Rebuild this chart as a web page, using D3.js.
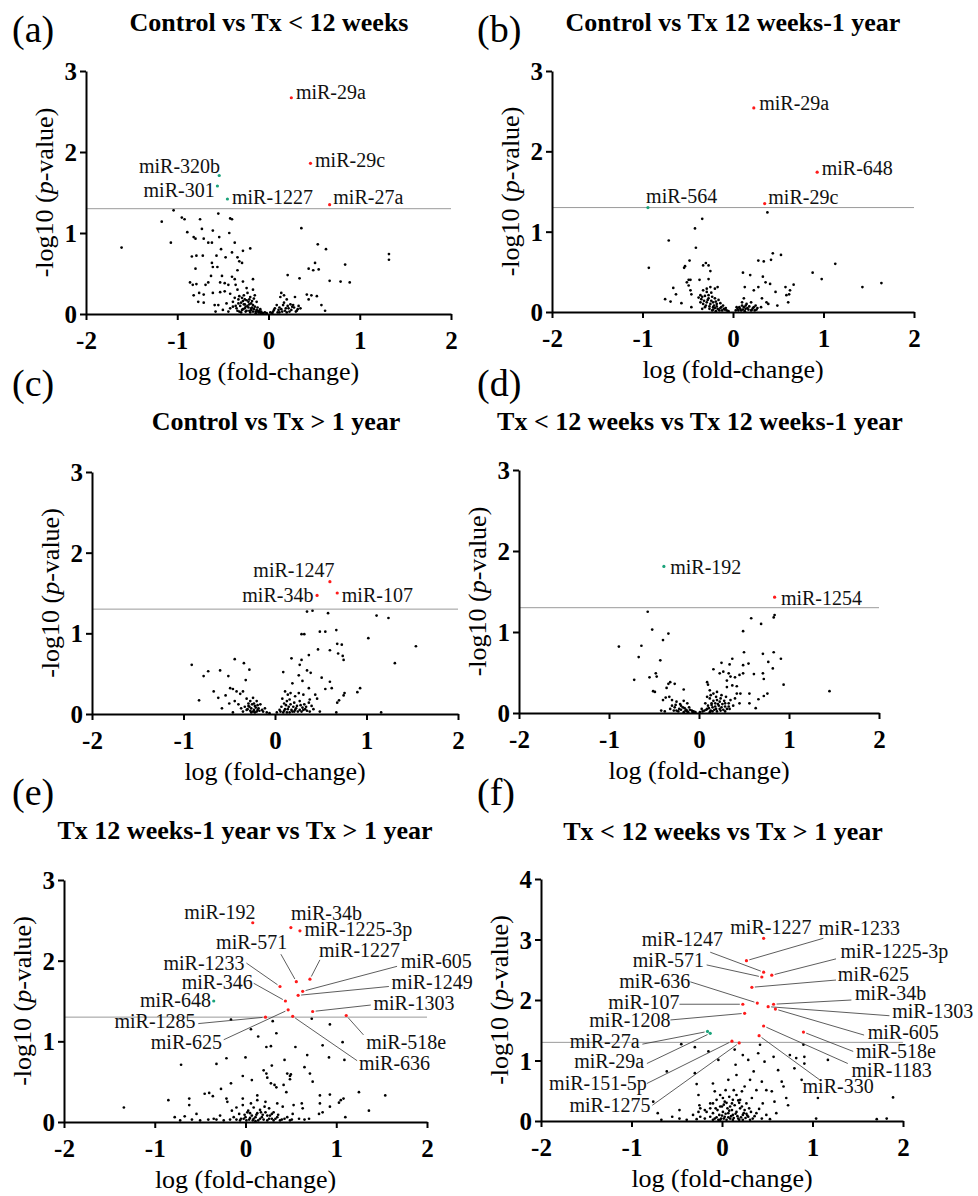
<!DOCTYPE html>
<html>
<head>
<meta charset="utf-8">
<script src="https://cdn.jsdelivr.net/npm/d3@7"></script>
<style>
  body { margin: 0; background: #fff; }
  text { font-family: "Liberation Serif", "Times New Roman", serif; }
</style>
</head>
<body>
<div id="chart"></div>
<script>
// Volcano plots: -log10(p) vs log(fold-change)

// Panel titles and letters
var panelLetters = ["(a)", "(b)", "(c)", "(d)", "(e)", "(f)"];
var panelTitles = [
  "Control vs Tx < 12 weeks",
  "Control vs Tx 12 weeks-1 year",
  "Control vs Tx > 1 year",
  "Tx < 12 weeks vs Tx 12 weeks-1 year",
  "Tx 12 weeks-1 year vs Tx > 1 year",
  "Tx < 12 weeks vs Tx > 1 year"
];
var xTicks = [-2, -1, 0, 1, 2];
var yTicks3 = [0, 1, 2, 3];
var yTicks4 = [0, 1, 2, 3, 4];
var threshold = 1.3;   // -log10(0.05)

// Non-significant miRNAs [logFC, -log10 p]
var bgA = [[-1.61,0.82],[-1.17,1.14],[-1.07,0.88],[-1.04,1.28],[-0.95,1.19],[-0.92,1.17],[-0.89,1.01],[-0.82,0.95],[-0.75,1.17],[-0.73,1.05],[-0.80,0.93],[-0.71,0.93],[-0.66,0.88],[-0.62,0.88],[-0.61,1.03],[-0.55,1.24],[-0.54,0.95],[-0.42,1.18],[-0.43,1.0],[-0.40,1.17],[-0.37,0.88],[-0.52,0.80],[-0.57,0.72],[-0.47,0.70],[-0.40,0.76],[-0.34,0.70],[-0.28,0.78],[-0.20,0.81],[-0.84,0.71],[-0.79,0.72],[-0.72,0.72],[-0.80,0.56],[-0.62,0.63],[-0.61,0.58],[-0.56,0.58],[-0.32,0.65],[-0.29,0.63],[-0.34,0.54],[-0.63,0.47],[-0.51,0.47],[-0.40,0.46],[-0.37,0.43],[-0.28,0.40],[-0.17,0.43],[-0.86,0.39],[-0.83,0.36],[-0.79,0.37],[-0.69,0.36],[-0.66,0.39],[-0.53,0.39],[-0.48,0.38],[-0.44,0.36],[-0.36,0.36],[-0.34,0.30],[-0.24,0.32],[-0.17,0.30],[-0.82,0.23],[-0.76,0.26],[-0.71,0.24],[-0.61,0.26],[-0.53,0.27],[-0.48,0.28],[-0.42,0.25],[-0.37,0.20],[-0.32,0.22],[-0.27,0.23],[-0.23,0.26],[-0.20,0.21],[-0.15,0.23],[-0.77,0.15],[-0.71,0.14],[-0.59,0.11],[-0.55,0.11],[-0.46,0.13],[-0.39,0.15],[-0.33,0.13],[-0.28,0.16],[-0.24,0.17],[-0.19,0.13],[-0.13,0.15],[-0.58,0.03],[-0.50,0.05],[-0.42,0.07],[-0.39,0.09],[-0.35,0.07],[-0.31,0.10],[-0.29,0.05],[-0.26,0.07],[-0.23,0.10],[-0.21,0.04],[-0.19,0.07],[-0.17,0.03],[-0.15,0.09],[-0.13,0.05],[-0.11,0.02],[-0.09,0.06],[-0.08,0.03],[-0.06,0.01],[-0.04,0.02],[-0.17,0.11],[-0.22,0.15],[-0.26,0.12],[-0.30,0.02],[-0.25,0.03],[-0.20,0.02],[-0.14,0.01],[-0.10,0.04],[-0.27,0.12],[-0.21,0.18],[-0.18,0.08],[-0.12,0.08],[-0.34,0.04],[-0.44,0.03],
  [-0.32,0.03],[-0.28,0.06],[-0.24,0.04],[-0.22,0.08],[-0.19,0.05],[-0.16,0.06],[-0.14,0.03],[-0.12,0.04],[-0.10,0.02],[-0.08,0.01],[-0.25,0.09],[-0.30,0.14],[-0.26,0.18],[-0.18,0.16],[-0.16,0.19],[-0.21,0.12],[-0.36,0.10],[-0.33,0.18],[-0.29,0.20],
  [0.36,1.06],[0.54,0.86],[0.63,0.80],[0.21,0.48],[0.34,0.44],[0.44,0.56],[0.51,0.63],[0.49,0.54],[0.55,0.55],[0.67,0.41],[0.79,0.40],[0.89,0.39],[0.84,0.61],[1.32,0.74],[1.32,0.67],[0.42,0.24],[0.47,0.23],[0.53,0.22],[0.44,0.18],[0.58,0.11],[0.62,0.04],[0.14,0.26],[0.17,0.23],[0.13,0.21],[0.20,0.18],[0.29,0.21],[0.09,0.11],[0.16,0.11],[0.24,0.12],[0.27,0.11],[0.33,0.10],[0.35,0.07],[0.07,0.07],[0.11,0.05],[0.14,0.06],[0.18,0.04],[0.22,0.07],[0.25,0.05],[0.30,0.03],[0.05,0.03],[0.02,0.02],[-0.02,0.01],[0.12,0.02],[0.20,0.02],[0.28,0.08],[0.31,0.04],
  [0.10,0.02],[0.15,0.03],[0.23,0.03],[0.26,0.09],[0.19,0.07],[0.06,0.05],[0.21,0.10],[0.17,0.14],[0.12,0.08],[0.32,0.06],[0.04,0.01]];

var bgB = [[-0.93,0.55],[-0.34,1.16],[-0.42,1.04],[-0.41,0.80],[-0.71,0.89],[-0.48,0.64],[-0.53,0.57],[-0.54,0.55],[-0.33,0.58],[-0.30,0.61],[-0.27,0.58],[-0.25,0.51],[-0.49,0.40],[-0.51,0.37],[-0.47,0.40],[-0.37,0.40],[-0.27,0.41],[-0.66,0.30],[-0.63,0.22],[-0.49,0.33],[-0.47,0.27],[-0.46,0.22],[-0.75,0.16],[-0.69,0.13],[-0.57,0.11],[-0.46,0.06],[-0.36,0.21],[-0.33,0.27],[-0.29,0.29],[-0.25,0.31],[-0.20,0.29],[-0.17,0.31],[-0.38,0.18],[-0.34,0.19],[-0.31,0.20],[-0.27,0.21],[-0.23,0.19],[-0.20,0.17],[-0.16,0.15],[-0.36,0.12],[-0.33,0.10],[-0.29,0.12],[-0.25,0.10],[-0.22,0.12],[-0.18,0.10],[-0.14,0.11],[-0.11,0.08],[-0.31,0.06],[-0.26,0.04],[-0.22,0.06],[-0.17,0.04],[-0.13,0.06],[-0.10,0.04],[-0.07,0.02],[-0.23,0.02],[-0.19,0.01],[-0.15,0.02],[-0.05,0.01],[-0.34,0.04],[-0.28,0.15],[-0.24,0.14],[-0.21,0.08],[-0.12,0.02],[-0.30,0.08],
  [-0.26,0.07],[-0.22,0.03],[-0.20,0.05],[-0.18,0.07],[-0.16,0.03],[-0.14,0.05],[-0.09,0.03],[-0.08,0.05],[-0.32,0.14],[-0.35,0.16],[-0.27,0.17],[-0.19,0.13],[-0.24,0.24],[-0.29,0.25],
  [0.38,1.24],[0.11,0.49],[0.19,0.46],[0.28,0.64],[0.34,0.63],[0.44,0.73],[0.42,0.65],[0.53,0.71],[0.33,0.44],[0.36,0.37],[0.28,0.31],[0.23,0.27],[0.13,0.31],[0.41,0.35],[0.47,0.25],[0.58,0.31],[0.67,0.34],[0.63,0.27],[0.59,0.21],[0.62,0.22],[0.49,0.08],[0.61,0.12],[0.32,0.17],[0.37,0.12],[0.39,0.10],[0.88,0.49],[0.98,0.41],[1.13,0.60],[1.43,0.31],[1.64,0.36],[0.12,0.17],[0.10,0.12],[0.15,0.10],[0.20,0.12],[0.25,0.08],[0.04,0.06],[0.08,0.04],[0.12,0.06],[0.17,0.03],[0.22,0.05],[0.26,0.03],[0.31,0.06],[0.06,0.02],[0.13,0.01],[0.20,0.02],[0.03,0.02],[0.09,0.02],[0.16,0.05],[0.24,0.02],
  [0.05,0.04],[0.07,0.06],[0.11,0.03],[0.14,0.04],[0.18,0.07],[0.21,0.03],[0.23,0.06],[0.27,0.05],[0.10,0.08],[0.14,0.08]];

var bgC = [[-0.91,0.61],[-0.83,0.17],[-0.78,0.47],[-0.73,0.53],[-0.60,0.54],[-0.67,0.28],[-0.62,0.20],[-0.58,0.07],[-0.51,0.47],[-0.44,0.68],[-0.34,0.63],[-0.28,0.55],[-0.32,0.42],[-0.49,0.32],[-0.46,0.31],[-0.42,0.28],[-0.38,0.25],[-0.35,0.28],[-0.54,0.23],[-0.50,0.13],[-0.44,0.16],[-0.40,0.12],[-0.37,0.07],[-0.31,0.19],[-0.27,0.16],[-0.24,0.20],[-0.20,0.16],[-0.29,0.10],[-0.26,0.07],[-0.22,0.10],[-0.18,0.07],[-0.16,0.12],[-0.31,0.05],[-0.24,0.03],[-0.19,0.05],[-0.14,0.05],[-0.09,0.02],[-0.06,0.01],[-0.11,0.07],[-0.35,0.03],[-0.46,0.02],[-0.27,0.04],[-0.22,0.02],[-0.25,0.12],[-0.21,0.08],[-0.28,0.09],
  [-0.30,0.06],[-0.26,0.02],[-0.23,0.05],[-0.20,0.03],[-0.17,0.04],[-0.13,0.03],[-0.33,0.09],[-0.29,0.13],[-0.23,0.13],[-0.19,0.11],
  [0.35,1.27],[0.41,1.28],[0.58,1.25],[1.11,1.22],[1.24,1.19],[0.67,1.04],[0.49,1.02],[0.55,1.02],[0.29,0.99],[0.32,0.99],[1.02,0.94],[0.68,0.87],[0.73,0.86],[0.47,0.80],[0.60,0.79],[0.69,0.75],[0.74,0.72],[0.75,0.67],[1.54,0.84],[1.31,0.63],[0.37,0.73],[0.29,0.67],[0.27,0.61],[0.18,0.69],[0.35,0.54],[0.39,0.51],[0.09,0.52],[0.26,0.48],[0.19,0.38],[0.30,0.41],[0.51,0.45],[0.60,0.40],[0.55,0.31],[0.62,0.32],[0.76,0.26],[0.75,0.23],[0.93,0.32],[0.90,0.27],[0.68,0.14],[0.70,0.17],[0.67,0.02],[1.16,0.02],[0.11,0.28],[0.14,0.24],[0.17,0.26],[0.22,0.22],[0.26,0.26],[0.31,0.24],[0.37,0.32],[0.44,0.24],[0.46,0.19],[0.38,0.18],[0.08,0.19],[0.13,0.16],[0.16,0.18],[0.21,0.14],[0.27,0.16],[0.32,0.12],[0.37,0.14],[0.40,0.10],[0.07,0.09],[0.11,0.06],[0.15,0.09],[0.18,0.05],[0.23,0.07],[0.27,0.05],[0.33,0.06],[0.38,0.03],[0.42,0.06],[0.49,0.03],[0.05,0.05],[0.02,0.02],[0.09,0.02],[0.16,0.02],[0.12,0.11],[0.24,0.10],[0.30,0.08],[0.21,0.03],
  [0.06,0.03],[0.10,0.04],[0.13,0.02],[0.14,0.06],[0.19,0.03],[0.22,0.05],[0.25,0.03],[0.29,0.03],[0.31,0.05],[0.35,0.04],[0.17,0.12],[0.20,0.09],[0.28,0.11],[0.34,0.09],[0.10,0.13]];

var bgD = [[-0.89,0.82],[-0.72,0.41],[-0.67,0.69],[-0.64,0.83],[-0.57,1.25],[-0.52,1.03],[-0.40,0.90],[-0.34,0.98],[-0.43,0.65],[-0.48,0.49],[-0.47,0.45],[-0.55,0.44],[-0.51,0.27],[-0.49,0.26],[-0.34,0.36],[-0.32,0.38],[-0.27,0.36],[-0.36,0.31],[-0.17,0.29],[-0.40,0.16],[-0.37,0.19],[-0.33,0.20],[-0.30,0.16],[-0.25,0.14],[-0.21,0.11],[-0.17,0.15],[-0.13,0.12],[-0.42,0.03],[-0.38,0.02],[-0.32,0.05],[-0.27,0.07],[-0.22,0.05],[-0.18,0.07],[-0.14,0.04],[-0.11,0.07],[-0.08,0.03],[-0.04,0.01],[-0.23,0.02],[-0.17,0.01],[-0.12,0.01],[-0.28,0.03],[-0.20,0.09],[-0.15,0.03],[-0.06,0.02],
  [-0.25,0.03],[-0.20,0.04],[-0.16,0.06],[-0.13,0.02],[-0.10,0.04],[-0.07,0.01],[-0.30,0.09],[-0.26,0.10],
  [0.84,1.21],[0.83,1.18],[0.58,1.17],[0.69,1.10],[0.49,1.01],[0.83,0.75],[0.91,0.67],[0.71,0.73],[0.50,0.75],[0.55,0.61],[0.49,0.59],[0.37,0.67],[0.25,0.62],[0.34,0.60],[0.16,0.54],[0.23,0.49],[0.27,0.51],[0.33,0.49],[0.35,0.45],[0.40,0.44],[0.45,0.47],[0.49,0.49],[0.61,0.48],[0.71,0.49],[0.72,0.42],[0.77,0.63],[0.82,0.55],[0.94,0.35],[1.45,0.27],[0.09,0.38],[0.10,0.35],[0.31,0.40],[0.37,0.34],[0.42,0.33],[0.31,0.32],[0.46,0.24],[0.42,0.24],[0.56,0.24],[0.66,0.17],[0.72,0.21],[0.76,0.24],[0.63,0.06],[0.56,0.12],[0.12,0.28],[0.16,0.24],[0.20,0.26],[0.25,0.22],[0.30,0.20],[0.35,0.16],[0.40,0.18],[0.45,0.12],[0.09,0.20],[0.12,0.18],[0.16,0.15],[0.20,0.16],[0.23,0.14],[0.28,0.15],[0.33,0.12],[0.38,0.09],[0.07,0.12],[0.10,0.09],[0.14,0.12],[0.18,0.08],[0.22,0.09],[0.25,0.07],[0.29,0.08],[0.34,0.05],[0.03,0.05],[0.06,0.03],[0.09,0.05],[0.13,0.03],[0.17,0.04],[0.20,0.02],[0.24,0.03],[0.29,0.02],[0.01,0.01],[0.15,0.07],[0.26,0.11],
  [0.04,0.02],[0.08,0.04],[0.11,0.06],[0.12,0.01],[0.15,0.02],[0.19,0.05],[0.21,0.11],[0.23,0.05],[0.27,0.04],[0.31,0.05],[0.33,0.08],[0.14,0.10],[0.18,0.12],[0.24,0.18],[0.19,0.20],[0.13,0.22],[0.29,0.12]];

var bgE = [[-1.34,0.18],[-0.85,0.27],[-0.71,0.71],[-0.78,0.06],[-0.67,0.07],[-0.62,0.29],[-0.62,0.21],[-0.54,0.10],[-0.45,0.35],[-0.40,0.36],[-0.36,0.32],[-0.32,0.72],[-0.27,0.41],[-0.21,0.79],[-0.16,0.48],[-0.21,0.29],[-0.20,0.25],[-0.16,1.27],[0.06,1.15],[0.14,1.06],[0.23,0.93],[0.28,0.94],[0.30,1.25],[0.34,1.10],[0.55,0.93],[0.68,0.83],[0.73,1.28],[0.85,0.95],[0.93,1.21],[1.07,0.99],[0.92,0.80],[1.09,0.77],[0.00,0.80],[-0.03,0.57],[0.07,0.52],[0.13,0.33],[0.20,0.64],[0.23,0.60],[0.24,0.55],[0.28,0.48],[0.29,0.70],[0.32,0.46],[0.34,0.43],[0.42,0.46],[0.43,0.77],[0.46,0.60],[0.49,0.57],[0.49,0.53],[0.50,0.59],[0.45,0.37],[0.65,0.68],[0.71,0.60],[0.74,0.50],[0.82,0.33],[0.93,0.34],[1.05,0.27],[1.08,0.29],[1.25,0.37],[1.54,0.33],[1.36,0.14],[1.10,0.06],[0.82,0.23],[0.81,0.10],[0.85,0.12],[0.93,0.19],[1.03,0.24],[0.62,0.23],[0.63,0.17],[0.53,0.21],[0.52,0.10],[0.41,0.19],[0.35,0.23],[0.22,0.25],[0.13,0.27],[0.06,0.23],[-0.03,0.29],[-0.03,0.21],[-0.10,0.18],[-0.15,0.14],[-0.07,0.10],[0.02,0.12],[0.07,0.08],[0.13,0.11],[0.18,0.06],[0.22,0.12],[0.27,0.08],[0.31,0.12],[0.35,0.06],[0.40,0.03],[0.46,0.06],[0.51,0.03],[0.59,0.04],[0.65,0.03],[0.70,0.04],[-0.13,0.06],[-0.10,0.03],[-0.05,0.04],[0.00,0.06],[0.04,0.03],[0.09,0.04],[0.14,0.02],[0.24,0.02],[0.31,0.02],[0.38,0.02],[-0.17,0.03],[-0.24,0.02],[-0.32,0.03],[-0.41,0.03],[-0.50,0.02],[-0.59,0.03],[-0.72,0.02],[-0.28,0.08],[-0.35,0.04],[0.03,0.14],[0.09,0.18],[0.16,0.15],[0.26,0.17],[0.19,0.09],[0.29,0.04],[0.11,0.01],
  [-0.06,0.02],[-0.02,0.04],[0.01,0.02],[0.05,0.05],[0.08,0.02],[0.11,0.06],[0.16,0.04],[0.20,0.03],[0.26,0.04],[0.29,0.10],[0.33,0.04],[0.36,0.09],[0.43,0.04],[0.49,0.02],[0.17,0.12],[0.24,0.08],[0.12,0.09],[-0.01,0.09],[0.05,0.11],[0.21,0.19]];

var bgF = [[-0.76,0.32],[-0.71,0.13],[-0.67,0.02],[-0.61,0.82],[-0.55,0.07],[-0.47,0.18],[-0.45,1.27],[-0.30,1.22],[-0.30,0.79],[-0.28,0.61],[-0.26,0.43],[-0.25,0.26],[-0.32,0.10],[-0.24,0.07],[-0.19,0.18],[-0.15,1.15],[-0.13,0.29],[-0.10,0.62],[-0.08,0.49],[-0.04,1.01],[-0.02,0.24],[0.01,0.38],[0.04,0.51],[0.07,0.68],[0.11,0.29],[0.13,0.51],[0.14,1.18],[0.15,0.93],[0.16,0.76],[0.20,0.35],[0.22,0.24],[0.23,1.09],[0.25,0.57],[0.27,0.29],[0.29,1.01],[0.31,0.68],[0.33,0.38],[0.35,0.82],[0.38,0.51],[0.40,1.12],[0.42,1.26],[0.44,0.65],[0.45,0.29],[0.47,0.98],[0.49,0.51],[0.55,0.49],[0.57,1.06],[0.58,0.32],[0.60,0.13],[0.62,0.84],[0.66,0.65],[0.68,0.57],[0.71,0.38],[0.73,0.26],[0.75,1.09],[0.80,0.87],[0.82,1.04],[0.88,0.68],[0.90,1.26],[0.91,1.06],[0.91,0.95],[1.17,1.01],[1.06,0.38],[1.04,0.04],[1.71,0.03],[1.82,0.04],[1.89,0.39],
  [-0.19,0.04],[-0.13,0.07],[-0.10,0.13],[-0.08,0.04],[-0.05,0.18],[-0.03,0.10],[-0.01,0.04],[0.01,0.15],[0.03,0.07],[0.06,0.21],[0.07,0.13],[0.09,0.04],[0.11,0.18],[0.12,0.10],[0.14,0.26],[0.16,0.15],[0.18,0.04],[0.20,0.21],[0.23,0.10],[0.25,0.18],[0.29,0.07],[0.32,0.15],[0.34,0.04],[0.38,0.13],[0.44,0.04],[0.49,0.10],[0.53,0.03],[-0.10,0.29],[-0.06,0.35],[-0.02,0.43],[0.03,0.32],[0.08,0.40],[0.12,0.35],[0.16,0.43],[0.22,0.49],[0.09,0.24],[-0.24,0.21],[-0.17,0.15],[-0.13,0.21],[-0.02,0.02],[0.05,0.02],[0.12,0.02],[0.23,0.02],[0.31,0.02],[-0.10,0.02],[-0.28,0.03],[-0.39,0.02],[-0.47,0.04],[-0.26,0.15],[0.00,0.24],[0.05,0.30],[0.19,0.30],[0.27,0.12],[0.36,0.08],[0.41,0.20],
  [-0.06,0.06],[-0.04,0.02],[0.00,0.09],[0.02,0.04],[0.04,0.12],[0.07,0.06],[0.10,0.08],[0.13,0.05],[0.15,0.12],[0.17,0.08],[0.19,0.02],[0.21,0.06],[0.24,0.13],[0.26,0.05],[0.28,0.09],[0.30,0.21],[0.18,0.34],[0.08,0.17],[-0.07,0.21],[0.02,0.27]];

// Significant miRNAs [name, logFC, -log10 p, direction]
var hitsA = [["miR-29a",0.25,2.67,"up"],["miR-29c",0.46,1.86,"up"],["miR-27a",0.67,1.35,"up"],
  ["miR-320b",-0.54,1.71,"down"],["miR-301",-0.56,1.58,"down"],["miR-1227",-0.45,1.42,"down"]];
var hitsB = [["miR-29a",0.23,2.54,"up"],["miR-648",0.93,1.74,"up"],["miR-29c",0.35,1.35,"up"],
  ["miR-564",-0.94,1.30,"down"]];
var hitsC = [["miR-1247",0.60,1.64,"up"],["miR-34b",0.46,1.47,"up"],["miR-107",0.68,1.50,"up"]];
var hitsD = [["miR-192",-0.39,1.81,"down"],["miR-1254",0.84,1.43,"up"]];
var hitsE = [["miR-192",0.08,2.47,"up"],["miR-34b",0.50,2.41,"up"],["miR-1225-3p",0.60,2.37,"up"],
  ["miR-571",0.56,1.74,"up"],["miR-1227",0.71,1.77,"up"],["miR-1233",0.38,1.68,"up"],
  ["miR-346",0.44,1.50,"up"],["miR-605",0.63,1.62,"up"],["miR-1249",0.58,1.57,"up"],
  ["miR-648",-0.35,1.50,"down"],["miR-1303",0.74,1.37,"up"],["miR-1285",0.22,1.30,"up"],
  ["miR-625",0.47,1.39,"up"],["miR-518e",1.11,1.32,"up"],["miR-636",0.52,1.31,"up"]];
var hitsF = [["miR-1227",0.46,3.02,"up"],["miR-1233",0.27,2.65,"up"],["miR-1247",0.46,2.46,"up"],
  ["miR-1225-3p",0.55,2.41,"up"],["miR-571",0.44,2.38,"up"],["miR-625",0.33,2.21,"up"],
  ["miR-636",0.39,1.95,"up"],["miR-34b",0.57,1.93,"up"],["miR-107",0.23,1.93,"up"],
  ["miR-1303",0.51,1.89,"up"],["miR-1208",0.25,1.78,"up"],["miR-605",0.59,1.85,"up"],
  ["miR-518e",0.90,1.47,"up"],["miR-1183",0.46,1.57,"up"],["miR-330",0.41,1.41,"up"],
  ["miR-27a",-0.16,1.48,"down"],["miR-29a",-0.13,1.45,"down"],
  ["miR-151-5p",0.11,1.32,"up"],["miR-1275",0.19,1.29,"up"]];

// Label placement (data units): [labelX, labelY, anchor, leaderX, leaderY]
var labA = {"miR-29a":[0.30,2.65,"start"],"miR-29c":[0.51,1.81,"start"],"miR-27a":[0.71,1.36,"start"],
  "miR-320b":[-0.53,1.745,"end"],"miR-301":[-0.59,1.45,"end"],"miR-1227":[-0.40,1.36,"start"]};
var labB = {"miR-29a":[0.29,2.52,"start"],"miR-648":[0.98,1.71,"start"],"miR-29c":[0.39,1.35,"start"],
  "miR-564":[-0.96,1.36,"start"]};
var labC = {"miR-1247":[0.65,1.70,"end"],"miR-34b":[0.42,1.39,"end"],"miR-107":[0.73,1.39,"start"]};
var labD = {"miR-192":[-0.32,1.72,"start"],"miR-1254":[0.91,1.33,"start"]};
var labE = {"miR-192":[0.11,2.52,"end"],"miR-34b":[0.50,2.51,"start"],"miR-1225-3p":[0.65,2.31,"start"],
  "miR-571":[0.46,2.14,"end",0.39,2.08],"miR-1227":[0.81,2.04,"start",0.82,2.01],
  "miR-1233":[-0.01,1.88,"end",0.01,1.97],"miR-346":[0.08,1.65,"end",0.09,1.72],
  "miR-605":[1.71,1.91,"start",1.67,1.93],"miR-1249":[1.61,1.65,"start",1.58,1.68],
  "miR-648":[-0.38,1.42,"end"],"miR-1303":[1.41,1.39,"start",1.38,1.45],
  "miR-1285":[-0.55,1.16,"end",-0.52,1.22],"miR-625":[-0.26,0.91,"end",-0.24,1.02],
  "miR-518e":[1.33,0.91,"start",1.30,1.08],"miR-636":[1.25,0.65,"start",1.23,0.76]};
var labF = {"miR-1227":[0.54,3.09,"middle"],"miR-1233":[1.07,3.07,"start",1.12,3.02],
  "miR-1247":[0.01,2.90,"end",-0.13,2.79],"miR-1225-3p":[1.31,2.69,"start",1.26,2.68],
  "miR-571":[-0.20,2.54,"end",-0.17,2.58],"miR-625":[1.28,2.32,"start",1.26,2.33],
  "miR-636":[-0.35,2.20,"end",-0.35,2.30],"miR-34b":[1.47,2.00,"start",1.43,2.00],
  "miR-107":[-0.47,1.85,"end",-0.47,1.93],"miR-1303":[1.88,1.70,"start",1.85,1.74],
  "miR-1208":[-0.57,1.56,"end",-0.57,1.67],"miR-605":[1.61,1.35,"start",1.57,1.42],
  "miR-518e":[1.48,1.04,"start",1.45,1.15],"miR-1183":[1.43,0.73,"start",1.39,0.95],
  "miR-330":[0.89,0.47,"start",1.08,0.68],"miR-27a":[-0.91,1.20,"end",-0.88,1.27],
  "miR-29a":[-0.86,0.87,"end",-0.83,0.95],"miR-151-5p":[-0.83,0.52,"end",-0.83,0.62],
  "miR-1275":[-0.79,0.15,"end",-0.77,0.26]};

// Panel frames (pixels)
var panels = [
  {bg: bgA, hits: hitsA, lab: labA, left: 86,  right: 451, bottom: 314,  top: 71,  yMax: 3, yTicks: yTicks3, lx: 12,  ly: 42,  tx: 269, ty: 31},
  {bg: bgB, hits: hitsB, lab: labB, left: 552, right: 914, bottom: 312,  top: 71,  yMax: 3, yTicks: yTicks3, lx: 477, ly: 42,  tx: 733, ty: 31},
  {bg: bgC, hits: hitsC, lab: labC, left: 92,  right: 458, bottom: 714,  top: 472, yMax: 3, yTicks: yTicks3, lx: 12,  ly: 396, tx: 276, ty: 430},
  {bg: bgD, hits: hitsD, lab: labD, left: 519, right: 879, bottom: 713,  top: 470, yMax: 3, yTicks: yTicks3, lx: 477, ly: 396, tx: 700, ty: 430},
  {bg: bgE, hits: hitsE, lab: labE, left: 64,  right: 427, bottom: 1122, top: 880, yMax: 3, yTicks: yTicks3, lx: 12,  ly: 805, tx: 245, ty: 839},
  {bg: bgF, hits: hitsF, lab: labF, left: 541, right: 903, bottom: 1121, top: 879, yMax: 4, yTicks: yTicks4, lx: 477, ly: 805, tx: 723, ty: 840}
];

var serif = "'Liberation Serif', 'Times New Roman', serif";

var svg = d3.select("#chart")
  .append("svg")
  .attr("width", 978)
  .attr("height", 1196)
  .style("background", "#fff");

var colors = {up: "#ff1a1a", down: "#1aa37a"};

panels.forEach(function (p, i) {
  var xScale = d3.scaleLinear().domain([-2, 2]).range([p.left, p.right]);
  var yScale = d3.scaleLinear().domain([0, p.yMax]).range([p.bottom, p.top]);
  var g = svg.append("g").attr("font-family", serif);

  // letter + title
  g.append("text")
    .attr("x", p.lx).attr("y", p.ly)
    .style("font-size", "38px")
    .text(panelLetters[i]);
  g.append("text")
    .attr("x", p.tx).attr("y", p.ty)
    .attr("text-anchor", "middle")
    .style("font-size", "26px").style("font-weight", "bold")
    .text(panelTitles[i]);

  // significance line
  g.append("line")
    .attr("x1", xScale(-2)).attr("x2", xScale(2))
    .attr("y1", yScale(threshold)).attr("y2", yScale(threshold))
    .attr("stroke", "#9a9a9a").attr("stroke-width", 1);

  // background points
  g.selectAll(".bg")
    .data(p.bg)
    .enter()
    .append("circle")
    .attr("cx", d => xScale(d[0]))
    .attr("cy", d => yScale(d[1]))
    .attr("r", 1.35)
    .attr("fill", "#000");

  // leader lines
  var withLeader = p.hits.filter(d => p.lab[d[0]] && p.lab[d[0]].length > 3);
  g.selectAll(".leader")
    .data(withLeader)
    .enter()
    .append("line")
    .attr("x1", d => xScale(p.lab[d[0]][3]))
    .attr("y1", d => yScale(p.lab[d[0]][4]))
    .attr("x2", function (d) {
      var x1 = xScale(p.lab[d[0]][3]), y1 = yScale(p.lab[d[0]][4]);
      var x2 = xScale(d[1]), y2 = yScale(d[2]);
      var len = Math.hypot(x2 - x1, y2 - y1);
      return x2 - (x2 - x1) / len * 3;
    })
    .attr("y2", function (d) {
      var x1 = xScale(p.lab[d[0]][3]), y1 = yScale(p.lab[d[0]][4]);
      var x2 = xScale(d[1]), y2 = yScale(d[2]);
      var len = Math.hypot(x2 - x1, y2 - y1);
      return y2 - (y2 - y1) / len * 3;
    })
    .attr("stroke", "#333")
    .attr("stroke-width", 0.8);

  // significant points
  g.selectAll(".hit")
    .data(p.hits)
    .enter()
    .append("circle")
    .attr("cx", d => xScale(d[1]))
    .attr("cy", d => yScale(d[2]))
    .attr("r", 1.6)
    .attr("fill", d => colors[d[3]]);

  // labels
  g.selectAll(".lab")
    .data(p.hits)
    .enter()
    .append("text")
    .attr("x", d => xScale(p.lab[d[0]][0]))
    .attr("y", d => yScale(p.lab[d[0]][1]))
    .attr("text-anchor", d => p.lab[d[0]][2])
    .style("font-size", "20px")
    .style("fill", "#111")
    .text(d => d[0]);

  // axes
  var bottomAxis = d3.axisBottom(xScale)
    .tickValues(xTicks).tickSize(6).tickSizeOuter(0).tickPadding(5)
    .tickFormat(d => String(d));
  var leftAxis = d3.axisLeft(yScale)
    .tickValues(p.yTicks).tickSize(6).tickSizeOuter(0).tickPadding(3)
    .tickFormat(d => String(d));

  var gx = g.append("g")
    .attr("transform", `translate(0, ${p.bottom})`)
    .call(bottomAxis);
  var gy = g.append("g")
    .attr("transform", `translate(${p.left}, 0)`)
    .call(leftAxis);

  [gx, gy].forEach(function (ax) {
    ax.attr("font-family", serif).attr("font-size", 25);
    ax.selectAll("path, line").attr("stroke", "#000").attr("stroke-width", 2);
    ax.selectAll("text")
      .attr("fill", "#000")
      .style("font-weight", "bold");
  });
  gx.selectAll("text").attr("dy", "0.95em");
  gy.selectAll("text").attr("dy", "0.34em");

  // axis titles
  g.append("text")
    .attr("x", (p.left + p.right) / 2)
    .attr("y", p.bottom + 66)
    .attr("text-anchor", "middle")
    .style("font-size", "26px")
    .text("log (fold-change)");

  var yl = g.append("text")
    .attr("transform", `translate(${p.left - 33}, ${(p.top + p.bottom) / 2}) rotate(-90)`)
    .attr("text-anchor", "middle")
    .style("font-size", "26px");
  yl.append("tspan").text("-log10 (");
  yl.append("tspan").style("font-style", "italic").text("p");
  yl.append("tspan").text("-value)");
});
</script>
</body>
</html>
